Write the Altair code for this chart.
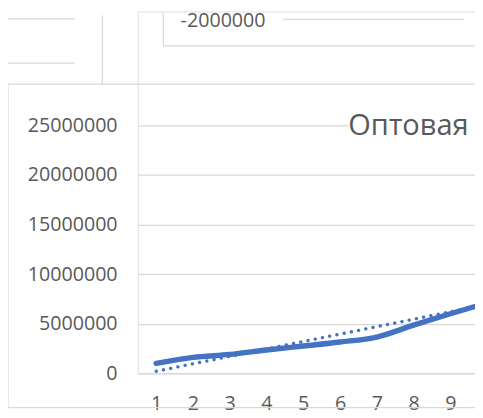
import altair as alt
import pandas as pd

# Data
categories = [1, 2, 3, 4, 5, 6, 7, 8, 9, 10]
sales = [1000000, 1600000, 1900000, 2350000, 2750000, 3150000, 3650000, 4850000, 6000000, 7100000]
trend = [200000, 950000, 1700000, 2450000, 3200000, 3950000, 4700000, 5450000, 6200000, 6950000]
y_ticks = [0, 5000000, 10000000, 15000000, 20000000, 25000000]
x_ticks = [1, 2, 3, 4, 5, 6, 7, 8, 9]
title_text = "Оптовая торговля"
bg_label = "-2000000"

df = pd.DataFrame({"cat": categories, "sales": sales, "trend": trend})

FONT = "Open Sans"
GRAY_TXT = "#595959"
GRID = "#d9d9d9"
BLUE = "#4472C4"

x_scale = alt.Scale(domain=[0.5, 9.671], nice=False, zero=False)
y_scale = alt.Scale(domain=[0, 36507937], nice=False)

x_axis = alt.Axis(values=x_ticks, title=None, grid=False, domain=False, ticks=False,
                  labelFont=FONT, labelFontSize=20, labelColor=GRAY_TXT, labelPadding=21,
                  labelAngle=0)
y_axis = alt.Axis(values=y_ticks, title=None, grid=True, gridColor=GRID, gridWidth=1.3,
                  domain=False, ticks=False, labelFont=FONT, labelFontSize=20,
                  labelColor=GRAY_TXT, labelPadding=21, format="d")

base = alt.Chart(df)

line = base.mark_line(color=BLUE, strokeWidth=5.5, clip=True, strokeCap="round",
                      interpolate="monotone").encode(
    x=alt.X("cat:Q", scale=x_scale, axis=x_axis),
    y=alt.Y("sales:Q", scale=y_scale, axis=y_axis),
)
trend_line = base.mark_line(color=BLUE, strokeWidth=3.4, strokeDash=[0.1, 7.4],
                            strokeCap="round", clip=True).encode(
    x=alt.X("cat:Q", scale=x_scale, axis=x_axis),
    y=alt.Y("trend:Q", scale=y_scale, axis=y_axis),
)

one = pd.DataFrame({"a": [0]})
def rule(x, x2, y, y2, color=GRID):
    return alt.Chart(one).mark_rule(color=color, strokeWidth=1.3).encode(
        x=alt.value(x), x2=alt.value(x2), y=alt.value(y), y2=alt.value(y2))

def white_box(x, x2, y, y2):
    return alt.Chart(one).mark_rect(color="white").encode(
        x=alt.value(x), x2=alt.value(x2), y=alt.value(y), y2=alt.value(y2))

frame = [
    rule(-132, -132, 74, 404),   # main chart box left
    rule(-132, 343, 74, 74),     # main chart box top
    rule(-132, 343, 403, 403),   # main chart box bottom
    rule(-36, -36, 4, 74),       # background chart edge
    rule(-132, -64, 7.5, 7.5),   # background gridlines (left)
    rule(-132, -64, 52.5, 52.5),
    rule(26, 26, 2, 35),         # background box
    rule(26, 343, 35, 35),
    rule(148, 332, 8, 8),        # background gridline
]

bg_text = alt.Chart(one).mark_text(font=FONT, fontSize=20, color=GRAY_TXT, align="right",
                                   baseline="alphabetic").encode(
    x=alt.value(130), y=alt.value(16), text=alt.value(bg_label))

title_bg = white_box(214, 343, 100, 134)
title = alt.Chart(one).mark_text(font=FONT, fontSize=29.5, color=GRAY_TXT, align="left",
                                 baseline="middle").encode(
    x=alt.value(214), y=alt.value(117), text=alt.value(title_text))

chart = alt.layer(*frame, bg_text, line, trend_line, title_bg, title).properties(
    width=343, height=368,
    autosize=alt.AutoSizeParams(type="none"),
    padding={"left": 132, "top": 0, "right": 0, "bottom": 41},
).configure_view(strokeWidth=0, fill=None).configure_axis(
    domain=False, ticks=False
).configure(background="white")

chart.save("out.html", embed_options={"renderer": "svg", "actions": False})
